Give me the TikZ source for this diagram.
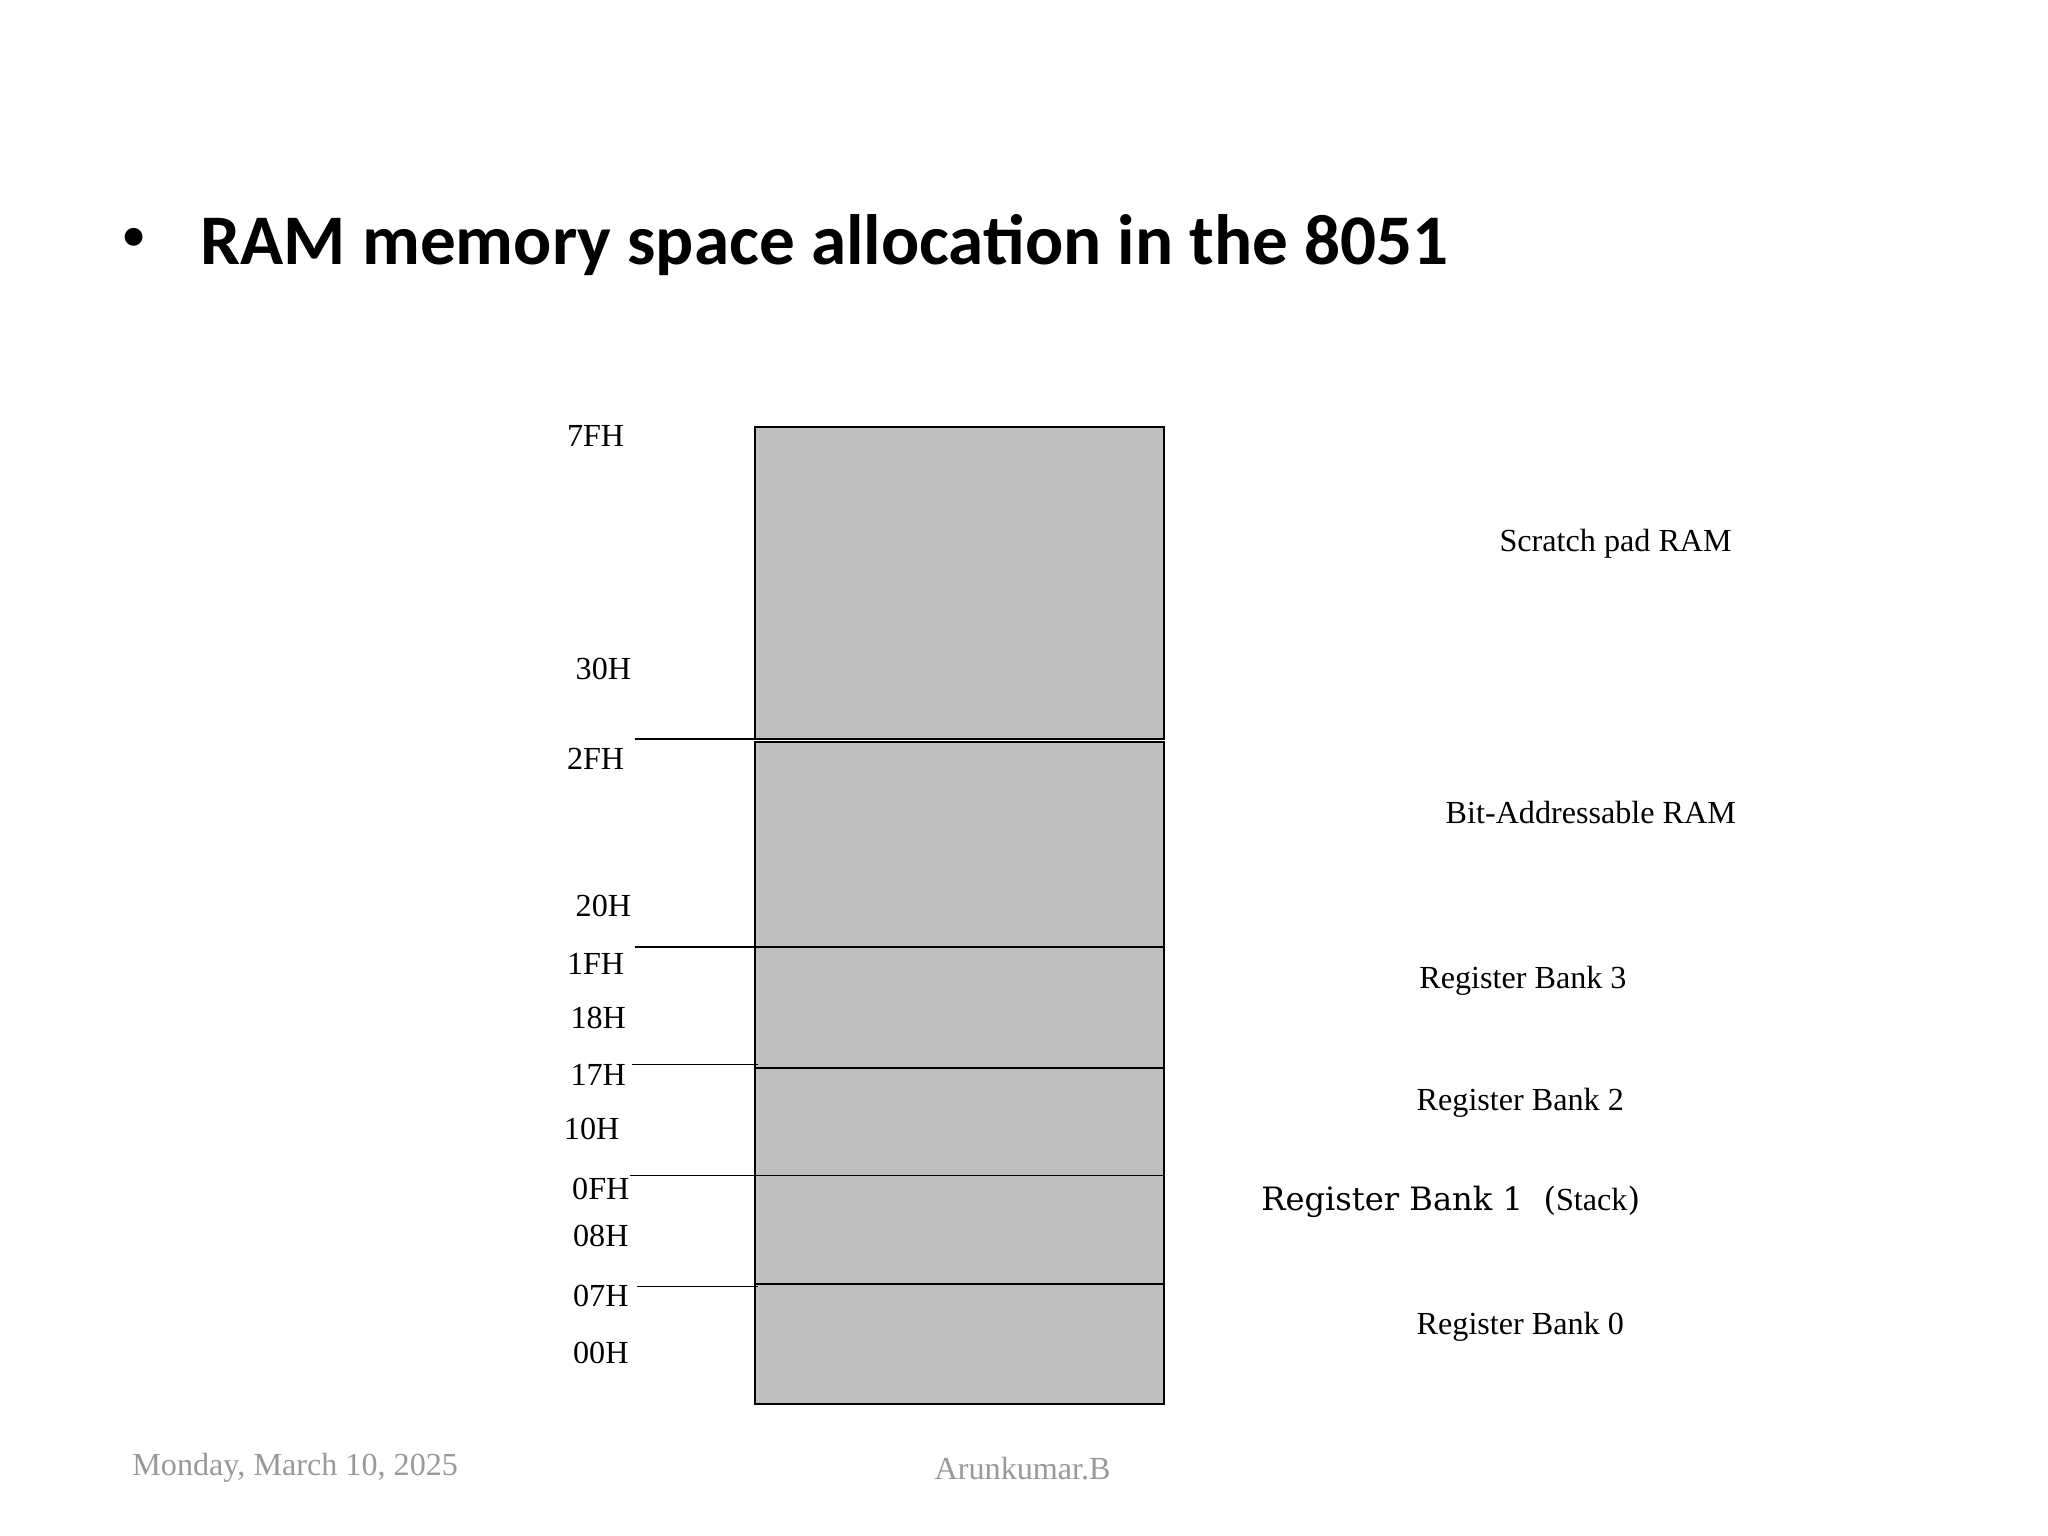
\documentclass[tikz,border=0pt]{standalone}
\usepackage{fontspec}
\setmainfont{Liberation Serif}
\newfontfamily\titlefont{Carlito}
\newfontfamily\dvs{DejaVu Serif}
\begin{document}
\begin{tikzpicture}[x=0.01cm,y=-0.01cm,
  mem/.style={draw=black,fill=gray!50,line width=0.4pt},
  lbl/.style={font=\fontsize{7}{8}\selectfont,inner sep=0},
  rlbl/.style={font=\fontsize{7}{8}\selectfont,inner sep=0},
  lead/.style={line width=0.4pt}]
\useasboundingbox (0,0) rectangle (1568,1176);
\node[inner sep=0,font=\titlefont\fontsize{11}{12}\selectfont] (bul) at (103,184) {\textbullet};
\node[inner sep=0,anchor=west,font=\titlefont\bfseries\fontsize{15.5}{18}\selectfont] (title) at (153,188) {RAM memory space allocation in the 8051};
\draw[mem] (578,327) rectangle (891,566);
\draw[mem] (578,568) rectangle (891,725);
\draw[mem] (578,725) rectangle (891,818);
\draw[mem] (578,818) rectangle (891,900);
\draw[mem] (578,900) rectangle (891,983);
\draw[mem] (578,983) rectangle (891,1075);
\coordinate (a1) at (486,566); \coordinate (b1) at (578,566);
\coordinate (a2) at (486,725); \coordinate (b2) at (578,725);
\coordinate (a3) at (484,815); \coordinate (b3) at (580,815);
\coordinate (a4) at (482,900); \coordinate (b4) at (578,900);
\coordinate (a5) at (488,985); \coordinate (b5) at (580,985);
\foreach \i in {1,...,5}{\draw[lead] (a\i) -- (b\i);}
\node[lbl] (l1) at (456,334) {7FH};
\node[lbl] (l2) at (462,512) {30H};
\node[lbl] (l3) at (456,581) {2FH};
\node[lbl] (l4) at (462,694) {20H};
\node[lbl] (l5) at (456,738) {1FH};
\node[lbl] (l6) at (458,779) {18H};
\node[lbl] (l7) at (458,823) {17H};
\node[lbl] (l8) at (453,864) {10H};
\node[lbl] (l9) at (460,910) {0FH};
\node[lbl] (l10) at (460,946) {08H};
\node[lbl] (l11) at (460,992) {07H};
\node[lbl] (l12) at (460,1036) {00H};
\node[rlbl] (r1) at (1237,416) {Scratch pad RAM};
\node[rlbl] (r2) at (1218,622) {Bit-Addressable RAM};
\node[rlbl] (r3) at (1166,751) {Register Bank 3};
\node[rlbl] (r4) at (1164,844) {Register Bank 2};
\node[inner sep=0,anchor=west] (r5) at (965,920) {\dvs\fontsize{7}{9}\selectfont Register Bank 1\ \ (\fontspec{Liberation Serif}\fontsize{7}{8}\selectfont Stack\dvs\fontsize{7}{9}\selectfont)};
\node[rlbl] (r6) at (1164,1016) {Register Bank 0};
\node[inner sep=0,text=gray!80,font=\fontsize{7}{8}\selectfont] (f1) at (226,1124) {Monday, March 10, 2025};
\node[inner sep=0,text=gray!80,font=\fontsize{7}{8}\selectfont] (f2) at (783,1124) {Arunkumar.B};
\end{tikzpicture}
\end{document}
